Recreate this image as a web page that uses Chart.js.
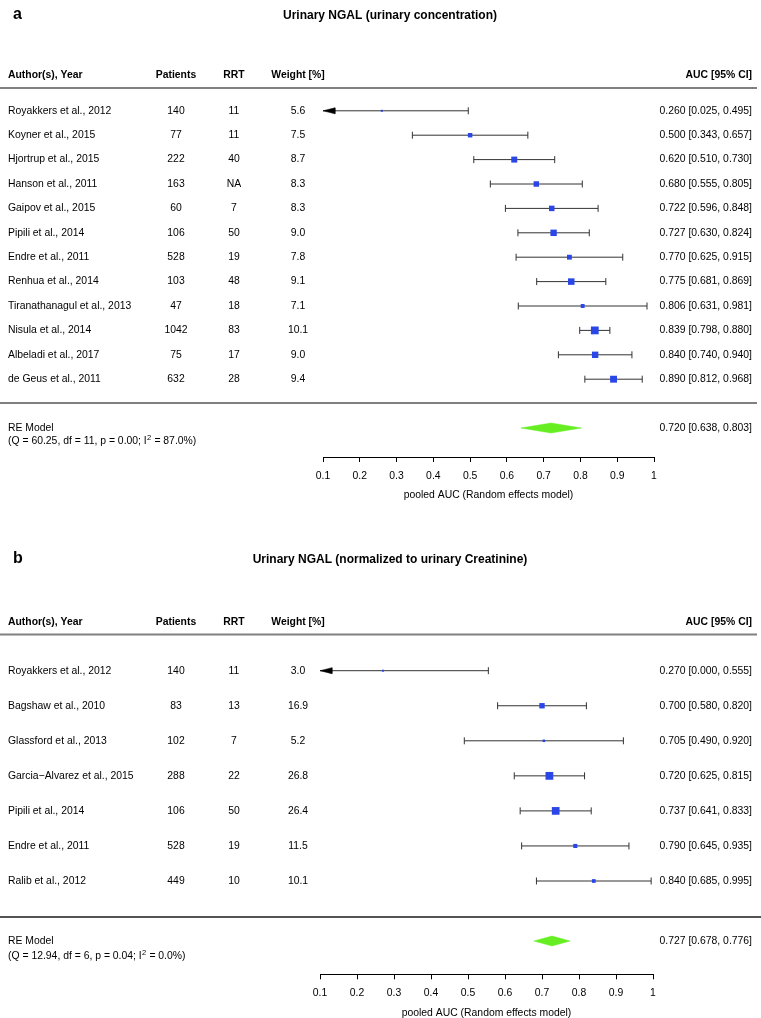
<!DOCTYPE html>
<html><head><meta charset="utf-8">
<script src="https://cdn.jsdelivr.net/npm/chart.js@4.4.1/dist/chart.umd.min.js"></script>
<style>
html,body{margin:0;padding:0;background:#fff;}
#wrap{position:relative;width:761px;height:1018px;overflow:hidden;}
canvas{position:absolute;left:0;}
</style></head><body>
<div id="wrap">
<canvas id="ca" width="761" height="509" style="top:0"></canvas>
<canvas id="cb" width="761" height="509" style="top:509px"></canvas>
</div>
<script>
// ---------- data ----------
const X_TICKS = [0.1, 0.2, 0.3, 0.4, 0.5, 0.6, 0.7, 0.8, 0.9, 1];
const HEADERS = ["Author(s), Year", "Patients", "RRT", "Weight [%]", "AUC [95% CI]"];
const AXIS_TITLE = "pooled AUC (Random effects model)";

// Panel a
const titleA = "Urinary NGAL (urinary concentration)";
const studiesA = ["Royakkers et al., 2012", "Koyner et al., 2015", "Hjortrup et al., 2015", "Hanson et al., 2011",
  "Gaipov et al., 2015", "Pipili et al., 2014", "Endre et al., 2011", "Renhua et al., 2014",
  "Tiranathanagul et al., 2013", "Nisula et al., 2014", "Albeladi et al., 2017", "de Geus et al., 2011"];
const patientsA = [140, 77, 222, 163, 60, 106, 528, 103, 47, 1042, 75, 632];
const rrtA = ["11", "11", "40", "NA", "7", "50", "19", "48", "18", "83", "17", "28"];
const weightA = [5.6, 7.5, 8.7, 8.3, 8.3, 9.0, 7.8, 9.1, 7.1, 10.1, 9.0, 9.4];
const aucA = [0.260, 0.500, 0.620, 0.680, 0.722, 0.727, 0.770, 0.775, 0.806, 0.839, 0.840, 0.890];
const lowerA = [0.025, 0.343, 0.510, 0.555, 0.596, 0.630, 0.625, 0.681, 0.631, 0.798, 0.740, 0.812];
const upperA = [0.495, 0.657, 0.730, 0.805, 0.848, 0.824, 0.915, 0.869, 0.981, 0.880, 0.940, 0.968];
const pooledA = [0.720, 0.638, 0.803];
const hetA = ["60.25", "11", "0.00", "87.0"];

// Panel b
const titleB = "Urinary NGAL (normalized to urinary Creatinine)";
const studiesB = ["Royakkers et al., 2012", "Bagshaw et al., 2010", "Glassford et al., 2013",
  "Garcia\u2212Alvarez et al., 2015", "Pipili et al., 2014", "Endre et al., 2011", "Ralib et al., 2012"];
const patientsB = [140, 83, 102, 288, 106, 528, 449];
const rrtB = ["11", "13", "7", "22", "50", "19", "10"];
const weightB = [3.0, 16.9, 5.2, 26.8, 26.4, 11.5, 10.1];
const aucB = [0.270, 0.700, 0.705, 0.720, 0.737, 0.790, 0.840];
const lowerB = [0.000, 0.580, 0.490, 0.625, 0.641, 0.645, 0.685];
const upperB = [0.555, 0.820, 0.920, 0.815, 0.833, 0.935, 0.995];
const pooledB = [0.727, 0.678, 0.776];
const hetB = ["12.94", "6", "0.04", "0.0"];

// ---------- layout / style ----------
const FONT = "'Liberation Sans', Arial, Helvetica, sans-serif";
const FS = 10.4;
const BLUE = "#2b46e6", GREEN = "#66ee22", CI = "#333333";
const MIN_SIDE = 2, MAX_SIDE = 7.8;
const COL = {author: 8, patients: 176, rrt: 234, weight: 298, right: 752};

const LAY_A = {letter: "a", title: titleA, H: 509, xL: 323, xR: 654, top: 60, row0: 110.8, sp: 24.4,
  axisY: 457, titleBase: 19, headerY: 75, hLineY: 88, fLineY: 403, reY: 428, qY: 441,
  fColor: "#808080", fWidth: 2, fEnd: 757, titlePad: 8.8};
const LAY_B = {letter: "b", title: titleB, H: 509, xL: 320, xR: 653, top: 100, row0: 161.7, sp: 35.05,
  axisY: 465.3, titleBase: 54, headerY: 113, hLineY: 125.5, fLineY: 408, reY: 432, qY: 447,
  fColor: "#1a1a1a", fWidth: 1.3, fEnd: 761, titlePad: 0};

Chart.defaults.font.family = FONT;

function fmt(v) { return v.toFixed(3); }

function textPlugin(d, L) {
  return {
    id: "forestText",
    afterDraw(chart) {
      const ctx = chart.ctx, ys = chart.scales.y;
      ctx.save();
      ctx.fillStyle = "#000";
      // panel letter
      ctx.font = "bold 16px " + FONT;
      ctx.textAlign = "left"; ctx.textBaseline = "alphabetic";
      ctx.fillText(L.letter, 13, L.titleBase);
      // title
      ctx.font = "bold 12px " + FONT;
      ctx.textAlign = "center";
      ctx.fillText(L.title, 390, L.titleBase);
      // header
      ctx.font = "bold " + FS + "px " + FONT;
      ctx.textBaseline = "middle";
      ctx.textAlign = "left"; ctx.fillText(HEADERS[0], COL.author, L.headerY);
      ctx.textAlign = "center";
      ctx.fillText(HEADERS[1], COL.patients, L.headerY);
      ctx.fillText(HEADERS[2], COL.rrt, L.headerY);
      ctx.fillText(HEADERS[3], COL.weight, L.headerY);
      ctx.textAlign = "right"; ctx.fillText(HEADERS[4], COL.right, L.headerY);
      // header line
      ctx.strokeStyle = "#808080"; ctx.lineWidth = 2;
      ctx.beginPath(); ctx.moveTo(0, L.hLineY); ctx.lineTo(757, L.hLineY); ctx.stroke();
      // footer line
      ctx.strokeStyle = L.fColor; ctx.lineWidth = L.fWidth;
      ctx.beginPath(); ctx.moveTo(0, L.fLineY); ctx.lineTo(L.fEnd, L.fLineY); ctx.stroke();
      // rows
      ctx.font = FS + "px " + FONT;
      d.studies.forEach((s, i) => {
        const y = ys.getPixelForValue(i);
        ctx.textAlign = "left"; ctx.fillText(s, COL.author, y);
        ctx.textAlign = "center";
        ctx.fillText(String(d.patients[i]), COL.patients, y);
        ctx.fillText(d.rrt[i], COL.rrt, y);
        ctx.fillText(d.weight[i].toFixed(1), COL.weight, y);
        ctx.textAlign = "right";
        ctx.fillText(fmt(d.auc[i]) + " [" + fmt(d.lower[i]) + ", " + fmt(d.upper[i]) + "]", COL.right, y);
      });
      // RE model
      ctx.textAlign = "left";
      ctx.fillText("RE Model", COL.author, L.reY);
      const p1 = "(Q = " + d.het[0] + ", df = " + d.het[1] + ", p = " + d.het[2] + "; I";
      ctx.fillText(p1, COL.author, L.qY);
      let x = COL.author + ctx.measureText(p1).width;
      ctx.font = "7.5px " + FONT;
      ctx.fillText("2", x + 0.3, L.qY - 3.5);
      x += ctx.measureText("2").width + 0.6;
      ctx.font = FS + "px " + FONT;
      ctx.fillText(" = " + d.het[3] + "%)", x, L.qY);
      ctx.textAlign = "right";
      ctx.fillText(fmt(d.pooled[0]) + " [" + fmt(d.pooled[1]) + ", " + fmt(d.pooled[2]) + "]", COL.right, L.reY);
      ctx.restore();
    }
  };
}

function buildPanel(canvasId, d, L) {
  const xmin = X_TICKS[0], xmax = X_TICKS[X_TICKS.length - 1];
  const wmin = Math.min(...d.weight), wmax = Math.max(...d.weight);
  const sides = d.weight.map(w => MIN_SIDE + (w - wmin) / (wmax - wmin) * (MAX_SIDE - MIN_SIDE));
  const datasets = [];
  datasets.push({
    data: d.auc.map((v, i) => ({x: v, y: i})), showLine: false,
    pointStyle: "rect", pointRadius: sides.map(s => s / Math.SQRT2),
    pointBackgroundColor: BLUE, backgroundColor: BLUE, pointBorderWidth: 0, borderWidth: 0,
    order: 0, clip: false
  });
  const pxX = (xmax - xmin) / (L.xR - L.xL);
  d.lower.forEach((lo, i) => {
    const clipped = lo < xmin;
    datasets.push({
      data: [{x: Math.max(lo, xmin), y: i}, {x: d.upper[i], y: i}], showLine: true,
      borderColor: CI, borderWidth: 1, pointStyle: "line", pointRotation: 90,
      pointRadius: [clipped ? 0 : 3.5, 3.5], pointBorderColor: CI, pointBorderWidth: 1,
      pointBackgroundColor: CI, order: 1, clip: false
    });
    if (clipped) {
      const dx = 12 * pxX, dy = 3 / L.sp;
      datasets.push({
        data: [{x: xmin, y: i}, {x: xmin + dx, y: i - dy}, {x: xmin + dx, y: i + dy}, {x: xmin, y: i}],
        showLine: true, fill: "shape", backgroundColor: "#000", borderColor: "#000", borderWidth: 0.5,
        pointRadius: 0, order: 0, clip: false
      });
    }
  });
  const reRow = (L.reY - L.row0) / L.sp, h = 5 / L.sp;
  datasets.push({
    data: [{x: d.pooled[1], y: reRow}, {x: d.pooled[0], y: reRow - h}, {x: d.pooled[2], y: reRow},
           {x: d.pooled[0], y: reRow + h}, {x: d.pooled[1], y: reRow}],
    showLine: true, fill: "shape", backgroundColor: GREEN, borderColor: GREEN, borderWidth: 0.5,
    pointRadius: 0, order: 0, clip: false
  });

  new Chart(document.getElementById(canvasId), {
    type: "scatter",
    data: {datasets},
    options: {
      responsive: false, animation: false, events: [],
      layout: {padding: {left: L.xL, right: 761 - L.xR, top: L.top, bottom: 0}},
      plugins: {legend: {display: false}, tooltip: {enabled: false}},
      elements: {line: {tension: 0}},
      scales: {
        x: {
          type: "linear", min: xmin, max: xmax,
          afterBuildTicks: s => { s.ticks = X_TICKS.map(v => ({value: v})); },
          afterFit: s => { s.height = L.H - L.axisY; },
          grid: {display: true, drawOnChartArea: false, drawTicks: true, tickLength: 5, color: "#000", lineWidth: 1},
          border: {display: true, color: "#000", width: 1},
          ticks: {padding: 7.5, color: "#000", font: {size: FS}, maxRotation: 0, autoSkip: false,
                  callback: v => String(v)},
          title: {display: true, text: AXIS_TITLE, color: "#000", font: {size: FS, lineHeight: 1},
                  padding: {top: 0, bottom: L.titlePad}}
        },
        y: {type: "linear", display: false, reverse: true,
            min: (L.top - L.row0) / L.sp, max: (L.axisY - L.row0) / L.sp}
      }
    },
    plugins: [textPlugin(d, L)]
  });
}

buildPanel("ca", {studies: studiesA, patients: patientsA, rrt: rrtA, weight: weightA, auc: aucA,
  lower: lowerA, upper: upperA, pooled: pooledA, het: hetA}, LAY_A);
buildPanel("cb", {studies: studiesB, patients: patientsB, rrt: rrtB, weight: weightB, auc: aucB,
  lower: lowerB, upper: upperB, pooled: pooledB, het: hetB}, LAY_B);
</script>
</body></html>
